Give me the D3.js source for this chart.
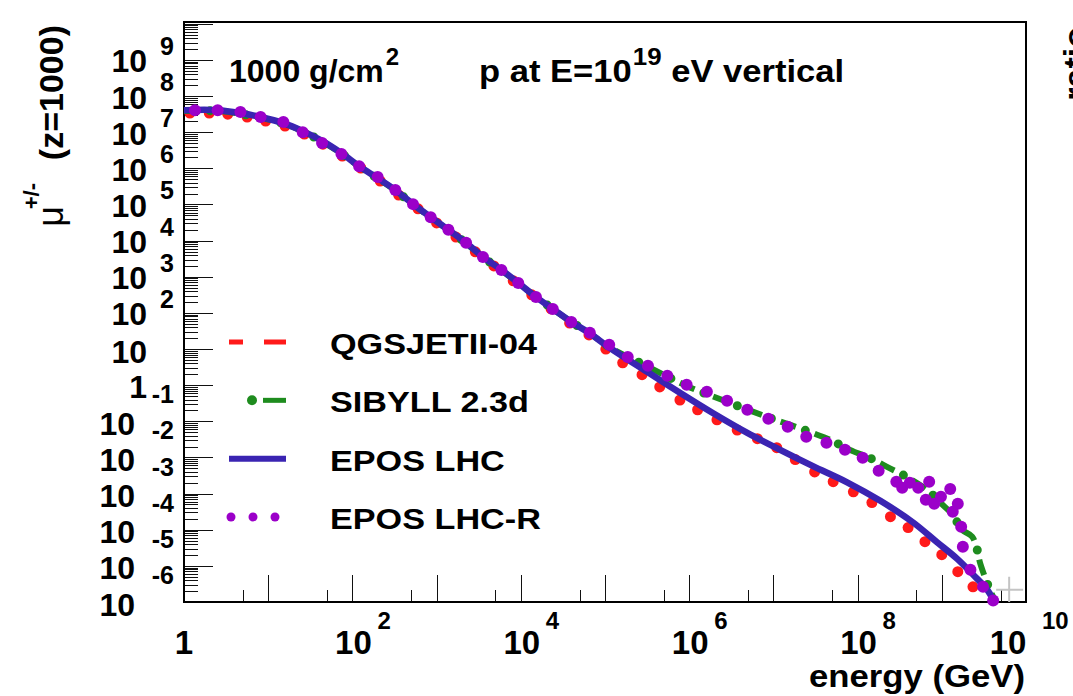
<!DOCTYPE html>
<html>
<head>
<meta charset="utf-8">
<script src="https://cdnjs.cloudflare.com/ajax/libs/d3/7.8.5/d3.min.js"></script>
<style>
body { margin: 0; background: #fff; }
svg { display: block; }
text { font-family: "Liberation Sans", Arial, Helvetica, sans-serif; font-weight: bold; fill: #000; }
</style>
</head>
<body>
<svg id="chart" width="1073" height="696"></svg>
<script>
// values are log10(energy / GeV) and log10(muon count)
var qgsLogE = [0.07, 0.30, 0.52, 0.75, 0.97, 1.20, 1.43, 1.65, 1.88, 2.10, 2.33, 2.55, 2.78, 3.00, 3.23,
    3.46, 3.68, 3.91, 4.13, 4.36, 4.58, 4.81, 5.01, 5.21, 5.44, 5.65, 5.89, 6.10, 6.33, 6.57, 6.81,
    7.04, 7.26, 7.49, 7.71, 7.95, 8.17, 8.39, 8.60, 8.80, 9.00, 9.19, 9.37];
var qgsLogN = [7.53, 7.53, 7.50, 7.42, 7.31, 7.17, 6.95, 6.67, 6.34, 6.01, 5.65, 5.26, 4.88, 4.49, 4.10,
    3.69, 3.30, 2.89, 2.50, 2.11, 1.72, 1.39, 1.00, 0.62, 0.29, -0.05, -0.41, -0.68, -0.96, -1.24, -1.48,
    -1.73, -2.06, -2.40, -2.67, -2.95, -3.25, -3.64, -3.94, -4.33, -4.69, -5.16, -5.58];

var sibyllLogE = [0, 0.40, 0.67, 0.91, 1.18, 1.41, 1.64, 1.87, 2.08, 2.30, 2.51, 2.72, 2.93, 3.14, 3.35,
    3.55, 3.77, 3.97, 4.18, 4.38, 4.60, 4.81, 5.07, 5.51, 5.97, 6.45, 6.95, 7.20, 7.46, 7.67, 7.91,
    8.17, 8.35, 8.60, 8.82, 9.01, 9.13, 9.24, 9.36, 9.42, 9.45, 9.51, 9.57, 9.63];
var sibyllLogN = [7.59, 7.59, 7.51, 7.40, 7.24, 7.02, 6.74, 6.41, 6.05, 5.72, 5.39, 5.00, 4.64, 4.29, 3.93,
    3.54, 3.18, 2.82, 2.44, 2.11, 1.75, 1.45, 1.03, 0.51, -0.02, -0.46, -0.90, -1.10, -1.32, -1.51, -1.79,
    -2.04, -2.26, -2.56, -2.89, -3.31, -3.59, -4.00, -4.19, -4.55, -4.88, -5.30, -5.66, -5.94];

var eposLogE = [0, 0.40, 0.67, 0.91, 1.18, 1.41, 1.64, 1.87, 2.08, 2.30, 2.51, 2.72, 2.93, 3.14, 3.35,
    3.55, 3.77, 3.97, 4.18, 4.38, 4.60, 4.81, 5.02, 5.50, 5.89, 6.28, 6.69, 7.08, 7.47, 7.87, 8.27,
    8.66, 8.94, 9.18, 9.37, 9.54, 9.61];
var eposLogN = [7.61, 7.61, 7.53, 7.42, 7.25, 7.03, 6.76, 6.42, 6.06, 5.73, 5.40, 5.01, 4.65, 4.30, 3.94,
    3.55, 3.19, 2.83, 2.44, 2.11, 1.75, 1.45, 1.09, 0.37, -0.21, -0.77, -1.32, -1.79, -2.24, -2.68, -3.20,
    -3.80, -4.34, -4.80, -5.24, -5.66, -5.94];

var eposRLogE = [0.13, 0.40, 0.67, 0.91, 1.18, 1.41, 1.64, 1.87, 2.08, 2.30, 2.51, 2.72, 2.93, 3.14, 3.35,
    3.55, 3.77, 3.97, 4.18, 4.38, 4.60, 4.82, 5.05, 5.27, 5.51, 5.74, 5.97, 6.21, 6.45, 6.69, 6.94,
    7.17, 7.39, 7.63, 7.85, 8.06, 8.25, 8.46, 8.53, 8.62, 8.72, 8.81, 8.85, 8.91, 8.99, 9.10, 9.13,
    9.19, 9.23, 9.25, 9.34, 9.49, 9.61];
var eposRLogN = [7.61, 7.61, 7.56, 7.42, 7.28, 7.00, 6.70, 6.40, 6.06, 5.76, 5.40, 5.01, 4.65, 4.30, 3.94,
    3.55, 3.19, 2.83, 2.44, 2.11, 1.75, 1.45, 1.12, 0.78, 0.54, 0.26, 0.01, -0.18, -0.43, -0.68, -0.93,
    -1.15, -1.43, -1.59, -1.79, -2.01, -2.37, -2.67, -2.84, -2.70, -2.84, -3.17, -2.67, -3.28, -3.09, -2.87, -3.50,
    -3.28, -3.92, -4.47, -5.11, -5.58, -5.96];

var legendNames = ["QGSJETII-04", "SIBYLL 2.3d", "EPOS LHC", "EPOS LHC-R"];
var xLabelExps = [0, 2, 4, 6, 8, 10];
var yLabelExps = [-6, -5, -4, -3, -2, -1, 0, 1, 2, 3, 4, 5, 6, 7, 8, 9];

var colRed = "#ff1a1a", colGreen = "#1e8c1e", colBlue = "#3a24b2", colPurple = "#9b00c9";

var svg = d3.select("#chart");

var x = d3.scaleLog().domain([1, 1e10]).range([184, 1026]);
var y = d3.scaleLog().domain([1e-6, Math.pow(10, 10.05)]).range([602, 22]);

function pts(le, ln) {
    return le.map(function (v, i) { return [Math.pow(10, v), Math.pow(10, ln[i])]; });
}

var line = d3.line()
    .x(function (d) { return x(d[0]); })
    .y(function (d) { return y(d[1]); })
    .curve(d3.curveCatmullRom.alpha(0.5));

// ticks on the y axis
var gTicks = svg.append("g").attr("stroke", "#111").attr("stroke-width", 1);
for (var k = -6; k <= 10; k++) {
    for (var m = 1; m <= 9; m++) {
        var v = m * Math.pow(10, k);
        if (v > y.domain()[1]) break;
        var yy = Math.round(y(v)) + 0.5;
        gTicks.append("line").attr("x1", 184).attr("x2", m == 1 ? 213 : 198)
            .attr("y1", yy).attr("y2", yy);
    }
}
// ticks on the x axis
for (var k = 0; k <= 10; k++) {
    [1, 5].forEach(function (m) {
        var v = m * Math.pow(10, k);
        if (v > 1e10) return;
        var xx = Math.round(x(v)) + 0.5;
        gTicks.append("line").attr("x1", xx).attr("x2", xx)
            .attr("y1", 602).attr("y2", m == 1 ? 575 : 590);
    });
}

// frame
svg.append("rect").attr("x", 184).attr("y", 22).attr("width", 1026 - 184).attr("height", 602 - 22)
    .attr("fill", "none").attr("stroke", "#000").attr("stroke-width", 2);

// y tick labels (ROOT style, exponent raised)
var gy = svg.append("g");
yLabelExps.forEach(function (k) {
    var yy = y(Math.pow(10, k));
    if (k == 0) {
        gy.append("text").attr("x", 147).attr("y", yy + 13).attr("text-anchor", "end")
            .style("font-size", "32px").text("1");
    } else if (k == 1) {
        gy.append("text").attr("x", 147).attr("y", yy + 14).attr("text-anchor", "end")
            .style("font-size", "32px").text("10");
    } else if (k > 1) {
        gy.append("text").attr("x", 147).attr("y", yy + 12.5).attr("text-anchor", "end")
            .style("font-size", "32px").text("10");
        gy.append("text").attr("x", 174).attr("y", yy - 5).attr("text-anchor", "end")
            .style("font-size", "25px").text(k);
    } else {
        gy.append("text").attr("x", 135).attr("y", yy + 13.5).attr("text-anchor", "end")
            .style("font-size", "32px").text("10");
        gy.append("text").attr("x", 174).attr("y", yy - 18).attr("text-anchor", "end")
            .style("font-size", "25px").text(k);
    }
});

// x tick labels
var gx = svg.append("g");
xLabelExps.forEach(function (k) {
    var xx = x(Math.pow(10, k));
    if (k == 0) {
        gx.append("text").attr("x", xx).attr("y", 654).attr("text-anchor", "middle")
            .style("font-size", "33px").text("1");
        return;
    }
    var dx = k == 10 ? -18 : 1;
    var gap = k == 10 ? 16 : 6;
    gx.append("text").attr("x", xx + dx).attr("y", 654).attr("text-anchor", "middle")
        .style("font-size", "33px").text("10");
    gx.append("text").attr("x", xx + dx + 18 + gap).attr("y", 629)
        .style("font-size", "24px").text(k);
});

// axis titles
svg.append("text").attr("transform", "translate(1025,687) scale(1.12,1)").attr("text-anchor", "end")
    .style("font-size", "31px").text("energy (GeV)");
svg.append("text").attr("transform", "translate(63,25) rotate(-90)").attr("text-anchor", "end")
    .style("font-size", "34px").text("(z=1000)");
svg.append("text").attr("transform", "translate(63,206) rotate(-90)").attr("text-anchor", "end")
    .style("font-size", "36px").style("font-weight", "normal").text("\u03bc");
svg.append("text").attr("transform", "translate(39,183) rotate(-90)").attr("text-anchor", "end")
    .style("font-size", "22px").text("+/-");
// title of the neighbouring pad, cut by the edge
svg.append("text").attr("transform", "translate(1087,27) rotate(-90)").attr("text-anchor", "end")
    .style("font-size", "34px").text("ratio");

// header texts
var t1 = svg.append("text").attr("x", 229).attr("y", 82).style("font-size", "32px");
t1.append("tspan").text("1000 g/cm");
t1.append("tspan").attr("dy", -17).attr("dx", 2).style("font-size", "24px").text("2");
var t2 = svg.append("text").attr("transform", "translate(479,82) scale(1.08,1)").style("font-size", "32px");
t2.append("tspan").text("p at E=10");
t2.append("tspan").attr("dy", -17).attr("dx", 1).style("font-size", "24px").text("19");
t2.append("tspan").attr("dy", 17).text(" eV vertical");

// data
var qgs = pts(qgsLogE, qgsLogN),
    sibyll = pts(sibyllLogE, sibyllLogN),
    epos = pts(eposLogE, eposLogN),
    eposR = pts(eposRLogE, eposRLogN);

svg.append("g").selectAll("circle").data(qgs).enter().append("circle")
    .attr("cx", function (d) { return x(d[0]); })
    .attr("cy", function (d) { return y(d[1]); })
    .attr("r", 5.5).attr("fill", colRed);

svg.append("path").attr("d", line(sibyll)).attr("fill", "none")
    .attr("stroke", colGreen).attr("stroke-width", 6).attr("stroke-dasharray", "16 20");
svg.append("path").attr("d", line(sibyll)).attr("fill", "none")
    .attr("stroke", colGreen).attr("stroke-width", 9).attr("stroke-linecap", "round")
    .attr("stroke-dasharray", "0 36").attr("stroke-dashoffset", -26);

svg.append("path").attr("d", line(epos)).attr("fill", "none")
    .attr("stroke", colBlue).attr("stroke-width", 6.5);

svg.append("g").selectAll("circle").data(eposR).enter().append("circle")
    .attr("cx", function (d) { return x(d[0]); })
    .attr("cy", function (d) { return y(d[1]); })
    .attr("r", 6).attr("fill", colPurple);

// marker cross left on the canvas
var cx = x(Math.pow(10, 9.8)), cy = y(Math.pow(10, -5.66));
svg.append("path").attr("d", "M" + (cx - 13) + "," + cy + "H" + (cx + 14) + "M" + cx + "," + (cy - 13) + "V" + 602)
    .attr("stroke", "#c4c4c4").attr("stroke-width", 2).attr("fill", "none");

// legend
var rowY = d3.scaleLinear().domain([0, 3]).range([342, 517]);
var lg = svg.append("g");
lg.append("line").attr("x1", 229).attr("x2", 286).attr("y1", rowY(0)).attr("y2", rowY(0))
    .attr("stroke", colRed).attr("stroke-width", 5).attr("stroke-dasharray", "14 21 22");
lg.append("circle").attr("cx", 252).attr("cy", rowY(1)).attr("r", 5).attr("fill", colGreen);
lg.append("line").attr("x1", 263).attr("x2", 286).attr("y1", rowY(1)).attr("y2", rowY(1))
    .attr("stroke", colGreen).attr("stroke-width", 5);
lg.append("line").attr("x1", 229).attr("x2", 286).attr("y1", rowY(2)).attr("y2", rowY(2))
    .attr("stroke", colBlue).attr("stroke-width", 6);
[231, 253, 275].forEach(function (px) {
    lg.append("circle").attr("cx", px).attr("cy", rowY(3)).attr("r", 4.5).attr("fill", colPurple);
});
legendNames.forEach(function (name, i) {
    lg.append("text").attr("transform", "translate(330," + (rowY(i) + 12) + ") scale(1.14,1)")
        .style("font-size", "30px").text(name);
});
</script>
</body>
</html>
